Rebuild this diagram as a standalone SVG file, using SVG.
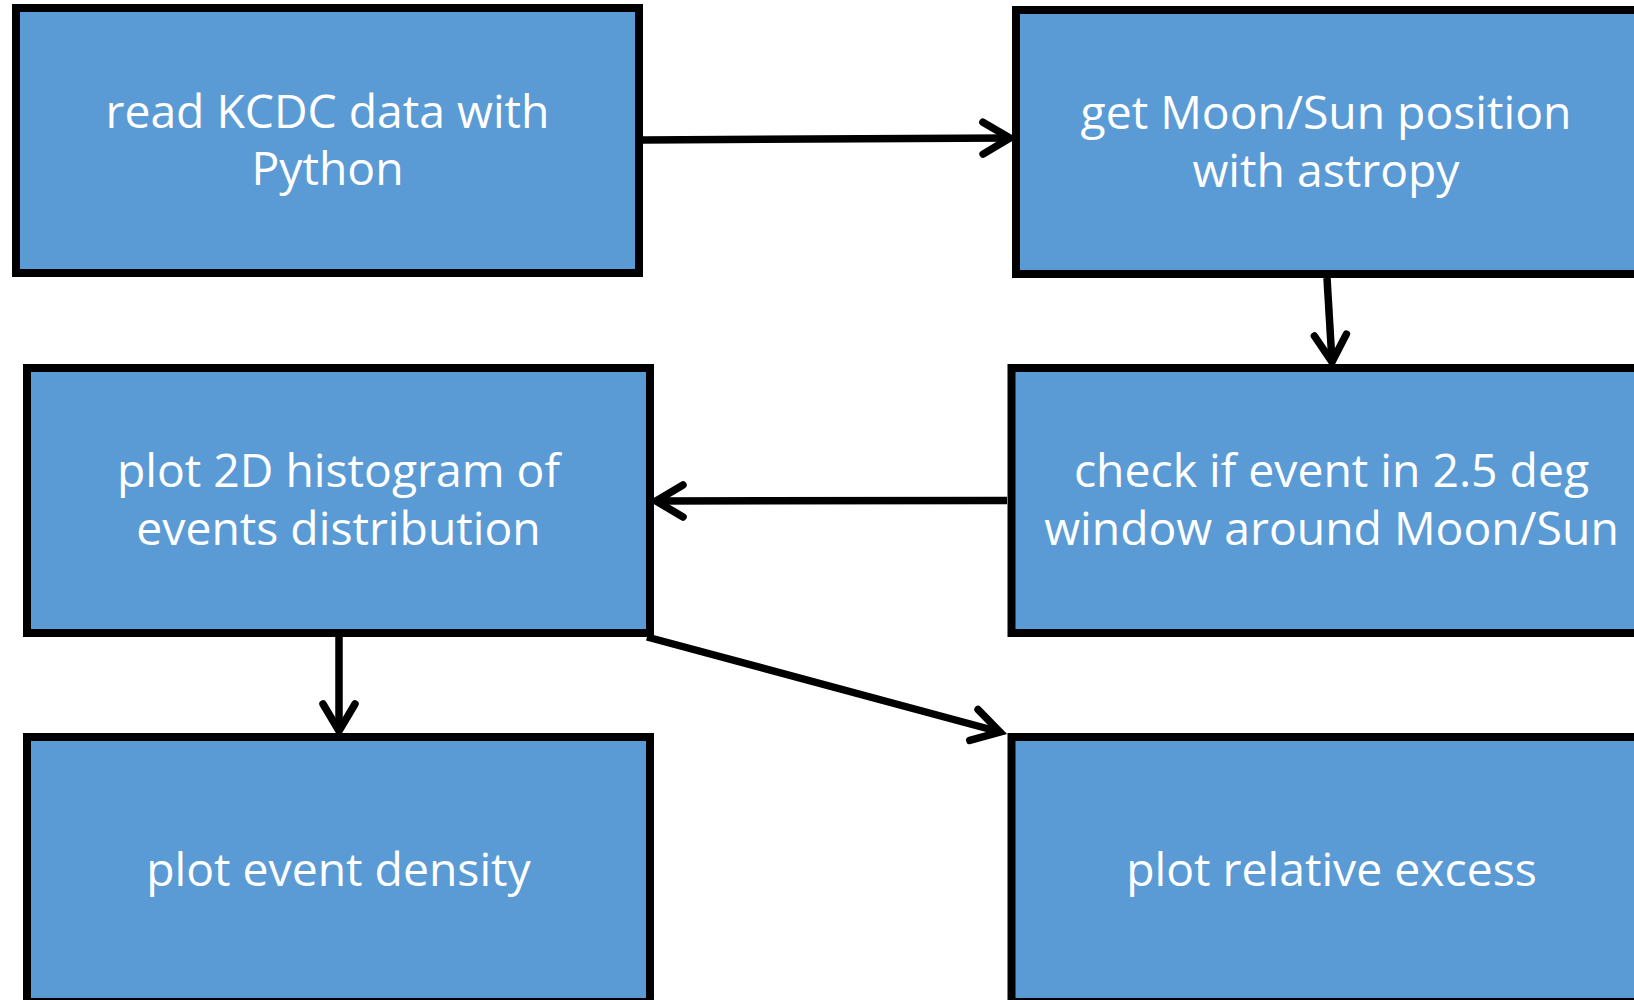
<svg xmlns="http://www.w3.org/2000/svg" width="1634" height="1000" viewBox="0 0 1634 1000">
<defs>
<style>
.box{fill:#5B9BD5;stroke:#000;stroke-width:8}
.lbl{font-family:"Open Sans","Noto Sans",sans-serif;font-size:46.3px;fill:#fff;text-anchor:middle}
.edge{stroke:#000;stroke-width:7.5;fill:none}
</style>
<marker id="ah" markerUnits="userSpaceOnUse" markerWidth="60" markerHeight="60" viewBox="-40 -30 50 60" refX="0" refY="0" orient="auto">
<path d="M-27,-16 L0,0 L-27,16" fill="none" stroke="#000" stroke-width="7.5" stroke-linecap="round" stroke-linejoin="miter"/>
</marker>
</defs>
<rect width="1634" height="1000" fill="#fff"/>
<g id="n1"><rect class="box" x="16" y="8" width="623" height="265"/><text class="lbl" x="327.5" y="128">read KCDC data with</text><text class="lbl" x="327.5" y="185">Python</text></g>
<g id="n2"><rect class="box" x="1016" y="10" width="640" height="264"/><text class="lbl" x="1326" y="129">get Moon/Sun position</text><text class="lbl" x="1326" y="187">with astropy</text></g>
<g id="n3"><rect class="box" x="27" y="368" width="623" height="265"/><text class="lbl" x="338.5" y="487">plot 2D histogram of</text><text class="lbl" x="338.5" y="545">events distribution</text></g>
<g id="n4"><rect class="box" x="1011.5" y="368" width="640" height="265"/><text class="lbl" x="1331.5" y="487">check if event in 2.5 deg</text><text class="lbl" x="1331.5" y="545">window around Moon/Sun</text></g>
<g id="n5"><rect class="box" x="27" y="737" width="623" height="265"/><text class="lbl" x="338.5" y="886">plot event density</text></g>
<g id="n6"><rect class="box" x="1011.5" y="737" width="640" height="265"/><text class="lbl" x="1331.5" y="886">plot relative excess</text></g>
<g id="edges">
<line class="edge" x1="643" y1="140" x2="1010" y2="138" marker-end="url(#ah)"/>
<line class="edge" x1="1327" y1="278" x2="1332" y2="362" marker-end="url(#ah)"/>
<line class="edge" x1="1007" y1="500.5" x2="656" y2="501" marker-end="url(#ah)"/>
<line class="edge" x1="339" y1="637" x2="339" y2="731" marker-end="url(#ah)"/>
<line class="edge" x1="647" y1="637" x2="1000" y2="732" marker-end="url(#ah)"/>
</g>
</svg>
